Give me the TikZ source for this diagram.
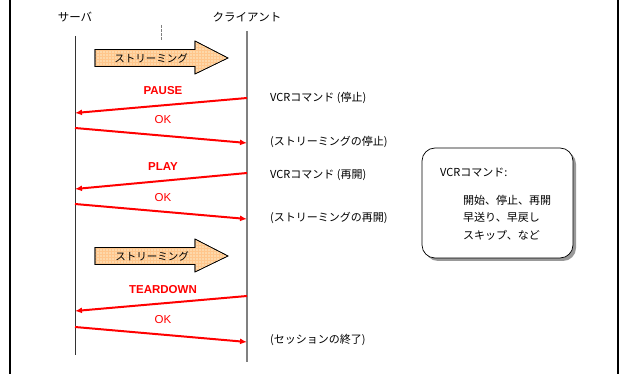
\documentclass[tikz,border=0pt]{standalone}
\usepackage{fontspec}
\setmainfont{Noto Sans CJK JP}
\newfontfamily\latf{Liberation Sans}
\usetikzlibrary{arrows.meta,patterns,shadows}
\definecolor{peach}{HTML}{FDD8AA}
\definecolor{lifegray}{HTML}{808080}
\begin{document}
\begin{tikzpicture}[x=1pt,y=-1pt,
  lbl/.style={font=\fontsize{10.5}{12}\selectfont, inner sep=0pt},
  hdr/.style={font=\fontsize{11.5}{13}\selectfont, inner sep=0pt},
  redlbl/.style={font=\latf\fontsize{11.5}{12}\selectfont\bfseries, text=red, inner sep=0pt},
  oklbl/.style={font=\latf\fontsize{11.5}{12}\selectfont, text=red, inner sep=0pt},
  note/.style={font=\fontsize{11}{12}\selectfont, inner sep=0pt, anchor=west},
  msg/.style={red, line width=2pt, -{Latex[length=7pt,width=6pt]}},
  blockarrow/.style={draw=black, line width=0.6pt, fill=peach},
]
\useasboundingbox (0,0) rectangle (619,374);
% frame sides
\draw[line width=2pt] (10,0) -- (10,374);
\draw[line width=2pt] (618,0) -- (618,374);

% headers
\node[hdr] (srv) at (75,17) {サーバ};
\node[hdr] (cli) at (247,17) {クライアント};

% lifelines
\coordinate (st) at (75,36);  \coordinate (sb) at (75,355);
\coordinate (ct) at (247,31); \coordinate (cb) at (247,362);
\draw[line width=0.7pt, black!80] (st) -- (sb);
\draw[line width=1.5pt, lifegray] (ct) -- (cb);

% dashed tick
\coordinate (dt) at (161,25); \coordinate (db) at (161,41);
\draw[gray, line width=0.6pt, dash pattern=on 3pt off 1pt] (dt) -- (db);

% streaming block arrows
\foreach \yy in {58,256}{
  \path[blockarrow] (95,\yy-8.5) -- (195,\yy-8.5) -- (195,\yy-17) -- (228,\yy) -- (195,\yy+16)
      -- (195,\yy+8.5) -- (95,\yy+8.5) -- cycle;
  \path[pattern=grid, pattern color=orange!45] (95.5,\yy-8) -- (195.5,\yy-8) -- (195.5,\yy-16) -- (227,\yy) -- (195.5,\yy+15)
      -- (195.5,\yy+8) -- (95.5,\yy+8) -- cycle;
  \draw[line width=0.6pt] (95,\yy-8.5) -- (195,\yy-8.5) -- (195,\yy-17) -- (228,\yy) -- (195,\yy+16)
      -- (195,\yy+8.5) -- (95,\yy+8.5) -- cycle;
}
\node[lbl] (str1) at (151,58) {ストリーミング};
\node[lbl] (str2) at (152,256) {ストリーミング};

% message coordinates
\coordinate (c1) at (247,98);  \coordinate (s1) at (75,113);
\coordinate (s2) at (75,128);  \coordinate (c2) at (247,143);
\coordinate (c3) at (247,173); \coordinate (s3) at (75,189);
\coordinate (s4) at (75,204);  \coordinate (c4) at (247,219);
\coordinate (c5) at (247,296); \coordinate (s5) at (75,311);
\coordinate (s6) at (75,327);  \coordinate (c6) at (247,342);

\draw[msg] (c1) -- (s1);
\draw[msg] (s2) -- (c2);
\draw[msg] (c3) -- (s3);
\draw[msg] (s4) -- (c4);
\draw[msg] (c5) -- (s5);
\draw[msg] (s6) -- (c6);

\node[redlbl] (pause) at (163,91) {PAUSE};
\node[oklbl] (ok1) at (163,120) {OK};
\node[redlbl] (play) at (163,167) {PLAY};
\node[oklbl] (ok2) at (163,198) {OK};
\node[redlbl] (tear) at (163,290) {TEARDOWN};
\node[oklbl] (ok3) at (163,320) {OK};

% right side notes
\node[note] (n1) at (270,98) {VCRコマンド (停止)};
\node[note] (n2) at (270,142) {(ストリーミングの停止)};
\node[note] (n3) at (270,175) {VCRコマンド (再開)};
\node[note] (n4) at (270,218) {(ストリーミングの再開)};
\node[note] (n5) at (270,340) {(セッションの終了)};

% command box
\node[draw=black, line width=0.7pt, fill=white, rounded corners=13pt,
      minimum width=151pt, minimum height=110pt, inner sep=0pt,
      drop shadow={shadow xshift=3pt, shadow yshift=-3pt, fill=black!40, opacity=1}]
      (box) at (497.5,203) {};
\node[note] (b1) at (440,173) {VCRコマンド:};
\node[note] (b2) at (463,200) {開始、停止、再開};
\node[note] (b3) at (463,217) {早送り、早戻し};
\node[note] (b4) at (463,235) {スキップ、など};
\end{tikzpicture}
\end{document}
